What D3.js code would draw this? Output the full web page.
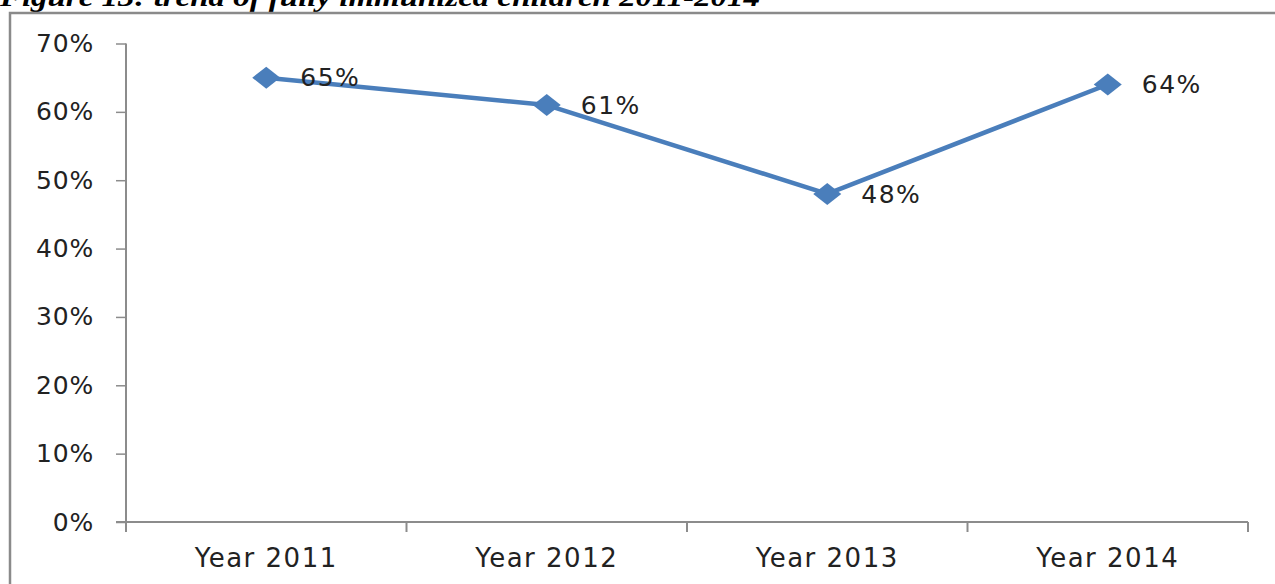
<!DOCTYPE html>
<html>
<head>
<meta charset="utf-8">
<script src="https://cdn.jsdelivr.net/npm/d3@7"></script>
<style>
  html, body { margin: 0; padding: 0; background: #fff; }
  svg { display: block; }
</style>
</head>
<body>
<svg id="chart" width="1275" height="584"></svg>
<script>
const titleText = "Figure 13: trend of fully immunized children 2011-2014";
const categories = ["Year 2011", "Year 2012", "Year 2013", "Year 2014"];
const values = [0.65, 0.61, 0.48, 0.64];
const labels = ["65%", "61%", "48%", "64%"];
const yTicks = [0, 0.1, 0.2, 0.3, 0.4, 0.5, 0.6, 0.7];

(function () {
const svg = d3.select("#chart");
const W = 1275, H = 584;
const pL = 126, pR = 1248, pT = 43.5, pB = 522;
const axisColor = "#8c8c8c";
const lineColor = "#4a7ebb";
const textColor = "#222";
const font = "'DejaVu Sans', Verdana, sans-serif";

// title (partially cut off at top, as in the reference)
svg.append("text")
  .attr("x", 0).attr("y", 6)
  .attr("font-family", "'Liberation Serif', 'Times New Roman', serif")
  .attr("font-weight", "bold").attr("font-style", "italic")
  .attr("font-size", 28)
  .attr("textLength", 760).attr("lengthAdjust", "spacingAndGlyphs")
  .attr("fill", "#000")
  .text(titleText);

// outer box (cut off at right/bottom)
svg.append("path")
  .attr("d", `M10,${H + 5} L10,13 L${W + 5},13`)
  .attr("fill", "none").attr("stroke", "#8a8a8a").attr("stroke-width", 2.5);

const x = d3.scaleBand().domain(categories).range([pL, pR]).padding(0);
const y = d3.scaleLinear().domain([0, 0.7]).range([pB, pT]);

// y axis
const yAxis = d3.axisLeft(y).tickValues(yTicks).tickFormat(d3.format(".0%"))
  .tickSize(10).tickPadding(22);
const gy = svg.append("g").attr("transform", `translate(${pL},0)`).call(yAxis);
gy.select(".domain").remove();
gy.selectAll(".tick line").attr("stroke", axisColor).attr("stroke-width", 1.5);
gy.selectAll(".tick text").attr("font-family", font).attr("font-size", 25)
  .attr("letter-spacing", 0.8)
  .attr("fill", textColor);
svg.append("line").attr("x1", pL).attr("x2", pL)
  .attr("y1", pT).attr("y2", pB + 10)
  .attr("stroke", axisColor).attr("stroke-width", 2);

// x axis
svg.append("line").attr("x1", pL - 10).attr("x2", pR)
  .attr("y1", pB).attr("y2", pB)
  .attr("stroke", axisColor).attr("stroke-width", 2);
const boundaries = categories.map(c => x(c) + x.bandwidth());
svg.append("g").selectAll("line").data(boundaries).join("line")
  .attr("x1", d => d).attr("x2", d => d)
  .attr("y1", pB).attr("y2", pB + 10)
  .attr("stroke", axisColor).attr("stroke-width", 2);
svg.append("g").selectAll("text").data(categories).join("text")
  .attr("x", d => x(d) + x.bandwidth() / 2)
  .attr("y", pB + 36)
  .attr("dy", "0.35em")
  .attr("text-anchor", "middle")
  .attr("font-family", font).attr("font-size", 26)
  .attr("letter-spacing", 1.5)
  .attr("fill", textColor)
  .text(d => d);

// line
const cx = (d, i) => x(categories[i]) + x.bandwidth() / 2;
const line = d3.line().x((d, i) => cx(d, i)).y(d => y(d));
svg.append("path").datum(values)
  .attr("d", line)
  .attr("fill", "none").attr("stroke", lineColor).attr("stroke-width", 4.5)
  .attr("stroke-linejoin", "round");

// diamond markers
svg.append("g").selectAll("path").data(values).join("path")
  .attr("transform", (d, i) => `translate(${cx(d, i)},${y(d)})`)
  .attr("d", "M0,-11 L14,0 L0,11 L-14,0 Z")
  .attr("fill", lineColor);

// data labels
svg.append("g").selectAll("text").data(values).join("text")
  .attr("x", (d, i) => cx(d, i) + 34)
  .attr("y", d => y(d))
  .attr("dy", "0.35em")
  .attr("font-family", font).attr("font-size", 25)
  .attr("letter-spacing", 1.5)
  .attr("fill", textColor)
  .text((d, i) => labels[i]);
})();
</script>
</body>
</html>
